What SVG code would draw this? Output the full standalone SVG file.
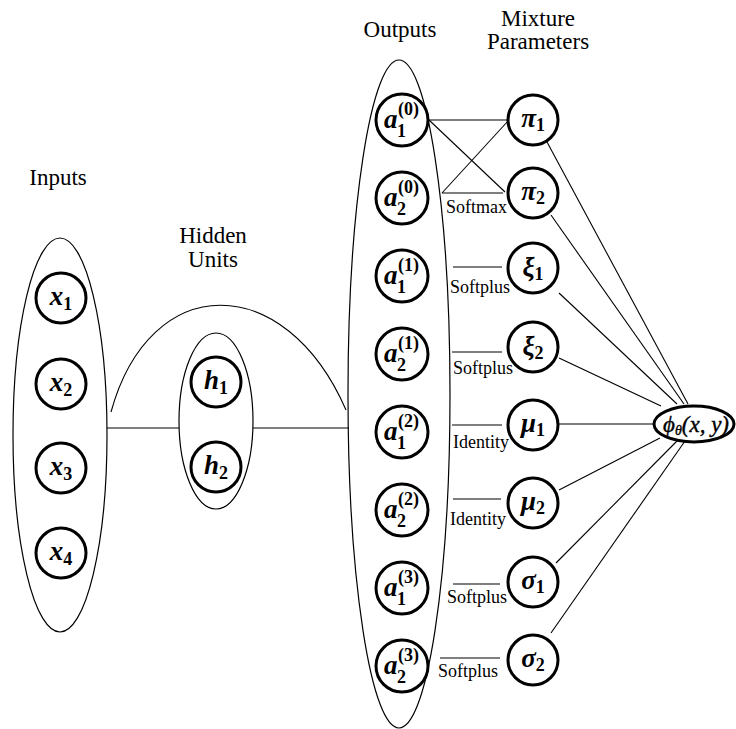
<svg xmlns="http://www.w3.org/2000/svg" width="736" height="729" viewBox="0 0 736 729">
<style>
.grp{fill:none;stroke:#000;stroke-width:1.2}
.node{fill:#fff;stroke:#000;stroke-width:3}
.ln{fill:none;stroke:#000;stroke-width:1.1}
.title{font-family:"Liberation Serif","Times New Roman",serif;font-size:23px;text-anchor:middle;fill:#000}
.fn{font-family:"Liberation Serif","Times New Roman",serif;font-size:18px;fill:#000}
.m{font-family:"Liberation Serif","DejaVu Serif",serif;font-style:italic;font-weight:bold;font-size:27px;fill:#000}
.s{font-size:18px;font-style:normal}
.ss{font-size:18px;font-style:normal}
.phi{font-family:"Liberation Serif","DejaVu Serif",serif;font-style:italic;font-weight:normal;font-size:23px;fill:#000;stroke:#000;stroke-width:0.4}
</style>
<rect width="736" height="729" fill="#fff"/>
<text class="title" x="58" y="185">Inputs</text>
<text class="title" x="213" y="243">Hidden</text>
<text class="title" x="213" y="267">Units</text>
<text class="title" x="400" y="37">Outputs</text>
<text class="title" x="538" y="26">Mixture</text>
<text class="title" x="538" y="49">Parameters</text>
<g id="groups">
<ellipse class="grp" cx="60" cy="435" rx="47" ry="197"/>
<ellipse class="grp" cx="216" cy="421" rx="37" ry="88"/>
<ellipse class="grp" cx="399" cy="394" rx="51" ry="334"/>
</g>
<g id="connectors">
<line class="ln" x1="107" y1="428" x2="179" y2="428"/>
<line class="ln" x1="253" y1="428" x2="349" y2="428"/>
<path class="ln" d="M111,412 C150,270 285,270 346,410"/>
<line class="ln" x1="429" y1="120" x2="507" y2="120"/>
<line class="ln" x1="429" y1="120" x2="505" y2="192"/>
<line class="ln" x1="442" y1="193" x2="508" y2="121"/>
<line class="ln" x1="442" y1="193" x2="503" y2="193"/>
<line class="ln" x1="453" y1="267" x2="502" y2="267"/>
<line class="ln" x1="452" y1="352" x2="502" y2="352"/>
<line class="ln" x1="452" y1="425" x2="502" y2="425"/>
<line class="ln" x1="453" y1="499" x2="501" y2="499"/>
<line class="ln" x1="453" y1="584" x2="500" y2="584"/>
<line class="ln" x1="440" y1="658" x2="500" y2="658"/>
<line class="ln" x1="547" y1="142" x2="688" y2="404"/>
<line class="ln" x1="551" y1="215" x2="684" y2="404"/>
<line class="ln" x1="559" y1="293" x2="677" y2="404"/>
<line class="ln" x1="559" y1="358" x2="661" y2="406"/>
<line class="ln" x1="559" y1="424" x2="653" y2="424"/>
<line class="ln" x1="559" y1="490" x2="660" y2="438"/>
<line class="ln" x1="556" y1="563" x2="677" y2="441"/>
<line class="ln" x1="551" y1="633" x2="685" y2="441"/>
</g>
<text class="fn" x="446" y="213">Softmax</text>
<text class="fn" x="450" y="293">Softplus</text>
<text class="fn" x="453" y="374">Softplus</text>
<text class="fn" x="453" y="448">Identity</text>
<text class="fn" x="450" y="525">Identity</text>
<text class="fn" x="447" y="603">Softplus</text>
<text class="fn" x="438" y="677">Softplus</text>
<g id="x1"><circle class="node" cx="61" cy="298" r="25"/><text class="m" x="61" y="305" text-anchor="middle">x<tspan class="s" dy="5">1</tspan></text></g>
<g id="x2"><circle class="node" cx="61" cy="384" r="25"/><text class="m" x="61" y="391" text-anchor="middle">x<tspan class="s" dy="5">2</tspan></text></g>
<g id="x3"><circle class="node" cx="61" cy="468" r="25"/><text class="m" x="61" y="475" text-anchor="middle">x<tspan class="s" dy="5">3</tspan></text></g>
<g id="x4"><circle class="node" cx="61" cy="553" r="25"/><text class="m" x="61" y="560" text-anchor="middle">x<tspan class="s" dy="5">4</tspan></text></g>
<g id="h1"><circle class="node" cx="216" cy="382" r="25"/><text class="m" x="216" y="389" text-anchor="middle">h<tspan class="s" dy="5">1</tspan></text></g>
<g id="h2"><circle class="node" cx="216" cy="467" r="25"/><text class="m" x="216" y="474" text-anchor="middle">h<tspan class="s" dy="5">2</tspan></text></g>
<g id="a10"><circle class="node" cx="402" cy="120" r="26"/><text class="m" x="384" y="128">a</text><text class="m ss" x="397" y="137">1</text><text class="m ss" x="398" y="115">(0)</text></g>
<g id="a20"><circle class="node" cx="402" cy="198" r="26"/><text class="m" x="384" y="206">a</text><text class="m ss" x="397" y="215">2</text><text class="m ss" x="398" y="193">(0)</text></g>
<g id="a11"><circle class="node" cx="402" cy="276" r="26"/><text class="m" x="384" y="284">a</text><text class="m ss" x="397" y="293">1</text><text class="m ss" x="398" y="271">(1)</text></g>
<g id="a21"><circle class="node" cx="402" cy="354" r="26"/><text class="m" x="384" y="362">a</text><text class="m ss" x="397" y="371">2</text><text class="m ss" x="398" y="349">(1)</text></g>
<g id="a12"><circle class="node" cx="402" cy="432" r="26"/><text class="m" x="384" y="440">a</text><text class="m ss" x="397" y="449">1</text><text class="m ss" x="398" y="427">(2)</text></g>
<g id="a22"><circle class="node" cx="402" cy="510" r="26"/><text class="m" x="384" y="518">a</text><text class="m ss" x="397" y="527">2</text><text class="m ss" x="398" y="505">(2)</text></g>
<g id="a13"><circle class="node" cx="402" cy="588" r="26"/><text class="m" x="384" y="596">a</text><text class="m ss" x="397" y="605">1</text><text class="m ss" x="398" y="583">(3)</text></g>
<g id="a23"><circle class="node" cx="402" cy="666" r="26"/><text class="m" x="384" y="674">a</text><text class="m ss" x="397" y="683">2</text><text class="m ss" x="398" y="661">(3)</text></g>
<g id="pi1"><circle class="node" cx="533" cy="120" r="25"/><text class="m" x="533" y="127" text-anchor="middle">π<tspan class="s" dy="4">1</tspan></text></g>
<g id="pi2"><circle class="node" cx="533" cy="193" r="25"/><text class="m" x="533" y="200" text-anchor="middle">π<tspan class="s" dy="4">2</tspan></text></g>
<g id="xi1"><circle class="node" cx="533" cy="268" r="25"/><text class="m" x="533" y="276" text-anchor="middle">ξ<tspan class="s" dy="4">1</tspan></text></g>
<g id="xi2"><circle class="node" cx="533" cy="347" r="25"/><text class="m" x="533" y="355" text-anchor="middle">ξ<tspan class="s" dy="4">2</tspan></text></g>
<g id="mu1"><circle class="node" cx="533" cy="425" r="25"/><text class="m" x="533" y="432" text-anchor="middle">μ<tspan class="s" dy="4">1</tspan></text></g>
<g id="mu2"><circle class="node" cx="533" cy="503" r="25"/><text class="m" x="533" y="510" text-anchor="middle">μ<tspan class="s" dy="4">2</tspan></text></g>
<g id="sigma1"><circle class="node" cx="533" cy="582" r="25"/><text class="m" x="533" y="589" text-anchor="middle">σ<tspan class="s" dy="4">1</tspan></text></g>
<g id="sigma2"><circle class="node" cx="533" cy="660" r="25"/><text class="m" x="533" y="667" text-anchor="middle">σ<tspan class="s" dy="4">2</tspan></text></g>
<g id="phi"><ellipse class="node" cx="694" cy="424" rx="40" ry="18"/><text class="phi" x="696" y="432" text-anchor="middle">ϕ<tspan style="font-size:14px" dy="3">θ</tspan><tspan dy="-3">(x, y)</tspan></text></g>
</svg>
